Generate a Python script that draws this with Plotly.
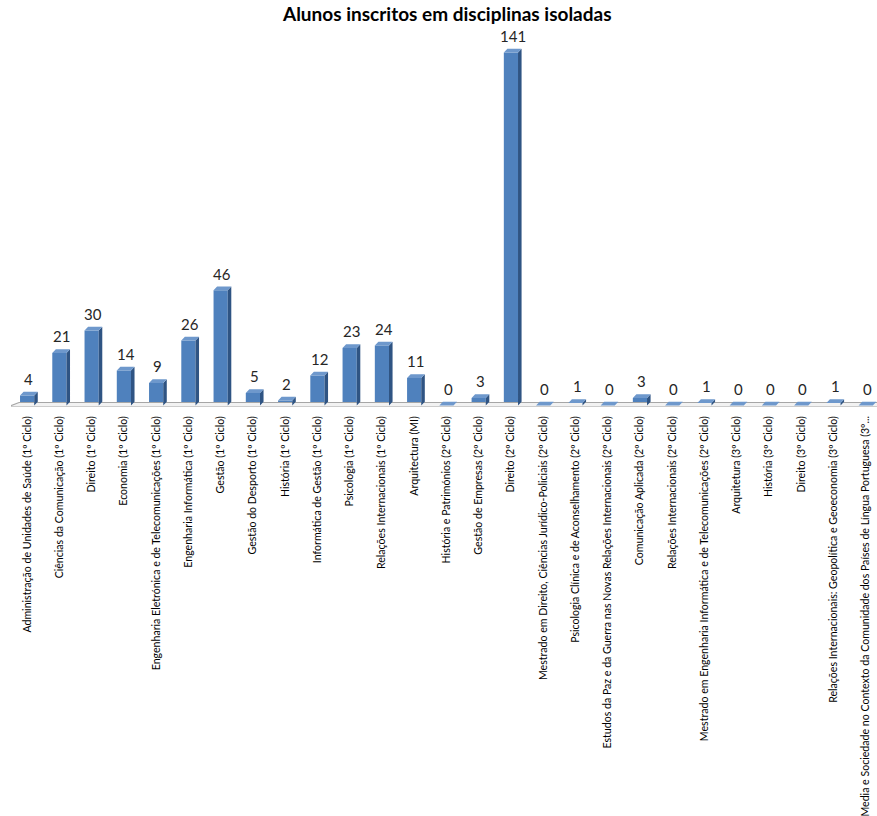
import plotly.graph_objects as go

categories = [
    "Administração de Unidades de Saúde (1º Ciclo)",
    "Ciências da Comunicação (1º Ciclo)",
    "Direito (1º Ciclo)",
    "Economia (1º Ciclo)",
    "Engenharia Eletrónica e de Telecomunicações (1º Ciclo)",
    "Engenharia Informática (1º Ciclo)",
    "Gestão (1º Ciclo)",
    "Gestão do Desporto (1º Ciclo)",
    "História (1º Ciclo)",
    "Informática de Gestão (1º Ciclo)",
    "Psicologia (1º Ciclo)",
    "Relações Internacionais (1º Ciclo)",
    "Arquitectura (MI)",
    "História e Patrimónios (2º Ciclo)",
    "Gestão de Empresas (2º Ciclo)",
    "Direito (2º Ciclo)",
    "Mestrado em Direito, Ciências Jurídico-Policiais (2º Ciclo)",
    "Psicologia Clínica e de Aconselhamento (2º Ciclo)",
    "Estudos da Paz e da Guerra nas Novas Relações Internacionais (2º Ciclo)",
    "Comunicação Aplicada (2º Ciclo)",
    "Relações Internacionais (2º Ciclo)",
    "Mestrado em Engenharia Informática e de Telecomunicações (2º Ciclo)",
    "Arquitetura (3º Ciclo)",
    "História (3º Ciclo)",
    "Direito (3º Ciclo)",
    "Relações Internacionais: Geopolítica e Geoeconomia (3º Ciclo)",
    "Media e Sociedade no Contexto da Comunidade dos Países de Língua Portuguesa (3º...",
]
values = [4, 21, 30, 14, 9, 26, 46, 5, 2, 12, 23, 24, 11, 0, 3, 141,
          0, 1, 0, 3, 0, 1, 0, 0, 0, 1, 0]

FRONT = "#4F81BD"
SIDE = "#2F5483"
TOP = "#6E98CC"

W = 0.44      # front face width (category units)
DX = 0.11     # depth offset along x
DY = 1.5      # depth offset along y (value units)

idx = list(range(len(categories)))
fig = go.Figure()

# floor of the 3-D plot
fig.add_trace(go.Scatter(
    x=[-0.6, -0.6 + 0.35, 26.5 + 0.35, 26.5, -0.6],
    y=[-0.6, 1.2, 1.2, -0.6, -0.6],
    mode="lines", fill="toself", fillcolor="#F2F2F2",
    line=dict(color="#A6A6A6", width=1.2), hoverinfo="skip", showlegend=False))

# right-hand side faces and top faces of each column
sx, sy, tx, ty = [], [], [], []
for i, v in zip(idx, values):
    r = i + W / 2
    l = i - W / 2
    sx += [r, r + DX, r + DX, r, r, None]
    sy += [0, DY, v + DY, v, 0, None]
    tx += [l, l + DX, r + DX, r, l, None]
    ty += [v, v + DY, v + DY, v, v, None]
fig.add_trace(go.Scatter(x=sx, y=sy, mode="lines", fill="toself",
                         fillcolor=SIDE, line=dict(width=0, color=SIDE),
                         hoverinfo="skip", showlegend=False))
fig.add_trace(go.Scatter(x=tx, y=ty, mode="lines", fill="toself",
                         fillcolor=TOP, line=dict(width=0, color=TOP),
                         hoverinfo="skip", showlegend=False))

# front faces
fig.add_trace(go.Bar(x=idx, y=values, width=W, marker=dict(color=FRONT, line=dict(width=0)),
                     showlegend=False, hovertext=categories))

# value labels
for i, v in zip(idx, values):
    fig.add_annotation(x=i + DX / 2, y=v + DY, text=str(v), showarrow=False,
                       yanchor="bottom", yshift=2,
                       font=dict(family="Lato", size=15, color="#262626"))

fig.update_layout(
    width=877, height=816,
    margin=dict(l=11, r=0, t=30, b=409, autoexpand=False),
    paper_bgcolor="white", plot_bgcolor="white",
    title=dict(text="<b>Alunos inscritos em disciplinas isoladas</b>",
               x=0.51, xanchor="center", y=0.983, yanchor="middle",
               font=dict(family="Lato", size=19, color="#000000")),
    bargap=0.5,
)
fig.update_xaxes(range=[-0.5, 26.35], tickvals=idx, ticktext=categories,
                 tickangle=-90, showgrid=False, zeroline=False, showline=False,
                 ticks="", ticklabelstandoff=6, automargin=False,
                 tickfont=dict(family="Lato", size=10.6, color="#000000"))
fig.update_yaxes(range=[-0.6, 150], visible=False, showgrid=False, zeroline=False,
                 automargin=False)

fig.write_html("out.html")
